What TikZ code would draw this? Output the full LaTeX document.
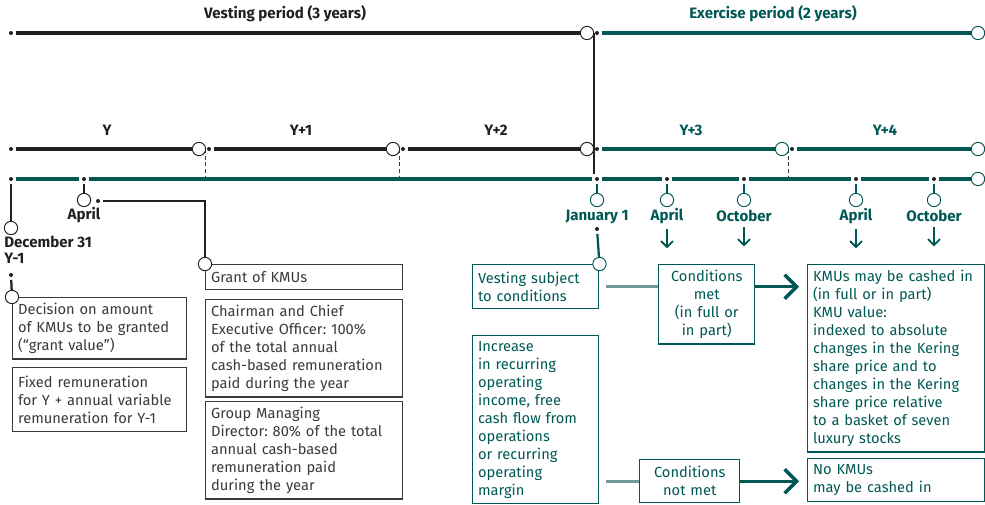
\documentclass[tikz,border=0pt]{standalone}
\usepackage{fontspec}
\setmainfont{Fira Sans}
\frenchspacing
\usetikzlibrary{arrows.meta,positioning,backgrounds,calc}
\definecolor{kteal}{RGB}{0,88,84}
\definecolor{kink}{RGB}{35,31,32}
\definecolor{kgrey}{RGB}{58,58,58}
\definecolor{klink}{RGB}{112,152,149}
\tikzset{
  bline/.style={line width=2.4pt,draw=kink},
  tline/.style={line width=2.4pt,draw=kteal},
  tick/.style={circle,fill=kink,inner sep=0pt,minimum size=3pt,outer sep=2.2pt},
  ring/.style={circle,draw=kink,fill=white,line width=0.7pt,inner sep=0pt,minimum size=10pt},
  tring/.style={ring,draw=kteal},
  hd/.style={font=\bfseries\fontsize{11.3}{12}\selectfont,text=kink,inner sep=0pt},
  thd/.style={hd,text=kteal},
  lbox/.style={draw=kgrey,line width=1.1pt,anchor=north west,align=left,inner sep=4pt,text=kgrey,font=\fontsize{11}{13.5}\selectfont},
  tbox/.style={lbox,draw=kteal,text=kteal},
  dline/.style={densely dashed,line width=0.6pt,draw=kgrey},
  kline/.style={line width=1.7pt,draw=kink},
  tstem/.style={line width=1.7pt,draw=kteal},
  jline/.style={line width=1.5pt,draw=kink},
  kcon/.style={line width=2.6pt,draw=klink},
  karr/.style={line width=2.6pt,draw=kteal,-{Straight Barb[length=9pt,width=18pt]}},
  darr/.style={line width=1.4pt,draw=kteal,-{Straight Barb[length=4.5pt,width=9pt]}}
}
\begin{document}
\begin{tikzpicture}[x=0.75pt,y=0.75pt]
\useasboundingbox (0,0) rectangle (985,-504);
\node[tick] (t0) at (11,-33) {};
\node[ring] (tv) at (587,-33) {};
\node[tick] (t1) at (597,-33) {};
\node[tring] (te) at (978,-33) {};
\draw[bline] (t0) -- (tv);
\draw[tline] (t1) -- (te);
\node[hd] (vest) at (285,-14) {Vesting period (3 years)};
\node[thd] (exer) at (773,-14) {Exercise period (2 years)};
\node[tick] (y0) at (11,-149) {};
\node[ring] (ry1) at (199,-149) {};
\node[tick] (y1) at (209,-149) {};
\node[ring] (ry2) at (393,-149) {};
\node[tick] (y2) at (403,-149) {};
\node[ring] (ry3) at (587,-149) {};
\node[tick] (y3) at (597,-149) {};
\node[tring] (ry4) at (782,-149) {};
\node[tick] (y4) at (792,-149) {};
\node[tring] (ry5) at (978,-149) {};
\draw[bline] (y0) -- (ry1);
\draw[bline] (y1) -- (ry2);
\draw[bline] (y2) -- (ry3);
\draw[tline] (y3) -- (ry4);
\draw[tline] (y4) -- (ry5);
\node[hd] (ly) at (107,-130) {Y};
\node[hd] (ly1) at (301,-130) {Y+1};
\node[hd] (ly2) at (496,-130) {Y+2};
\node[thd] (ly3) at (691,-130) {Y+3};
\node[thd] (ly4) at (885,-130) {Y+4};
\node[tick] (m0) at (11,-179) {};
\node[tick] (mA) at (84,-179) {};
\node[tick] (dJ) at (597,-179) {};
\node[tring] (rme) at (978,-179) {};
\node[ring] (rdec) at (11,-228) {};
\node[hd,align=left,anchor=north west] (ldec) at (4,-236) {December 31\\Y-1};
\node[ring] (rA) at (84,-200) {};
\node[hd] (lA) at (84,-215) {April};
\node[tick] (gA) at (98,-201) {};
\node[tring] (rJ) at (597,-200) {};
\node[thd] (lJ) at (597,-217) {January 1};
\node[tick] (dJ2) at (597,-229) {};
\foreach \n/\x/\t in {a3/667/April,o3/744/October,a4/856/April,o4/934/October}{
  \node[tick] (d\n) at (\x,-179) {};
  \node[tring] (r\n) at (\x,-200) {};
  \node[thd] (l\n) at (\x,-216) {\t};
  \draw[tstem] (d\n) -- (r\n);
  \draw[darr] ([yshift=-4pt]l\n.south) -- ++(0,-19);
}
\foreach \a/\b in {m0/mA,mA/dJ,dJ/da3,da3/do3,do3/da4,da4/do4,do4/rme}
  \draw[tline] (\a) -- (\b);
\begin{scope}[on background layer]
\draw[jline] (tv.east) -- (tv.east |- dJ.north);
\draw[dline] ([xshift=4.5pt]ry1.center) -- ([xshift=4.5pt]ry1.center |- m0);
\draw[dline] ([xshift=4.5pt]ry2.center) -- ([xshift=4.5pt]ry2.center |- m0);
\draw[dline] ([xshift=4.5pt]ry4.center) -- ([xshift=4.5pt]ry4.center |- m0);
\end{scope}
\node[lbox,text width=122.5pt,minimum height=45.75pt] (dbox) at (12,-297) {Decision on amount\\of KMUs to be granted\\(“grant value”)};
\node[lbox,text width=122.5pt,minimum height=48pt] (fbox) at (12,-367) {Fixed remuneration\\for Y + annual variable\\remuneration for Y-1};
\node[lbox,text width=139.75pt,minimum height=18.75pt] (gbox) at (205,-264) {Grant of KMUs};
\node[lbox,text width=139.75pt,minimum height=70.5pt] (cbox) at (205,-299) {Chairman and Chief\\Executive Officer: 100\%\\of the total annual\\cash-based remuneration\\paid during the year};
\node[lbox,text width=139.75pt,minimum height=70.5pt] (mbox) at (205,-401) {Group Managing\\Director: 80\% of the total\\annual cash-based\\remuneration paid\\during the year};
\node[tbox,text width=86.5pt,minimum height=33pt] (vbox) at (472,-264) {Vesting subject\\to conditions};
\node[tbox,text width=86.5pt,minimum height=125.25pt] (ibox) at (472,-335) {Increase\\in recurring\\operating\\income, free\\cash flow from\\operations\\or recurring\\operating\\margin};
\node[tbox,align=center,text width=64pt,minimum height=57pt] (cmet) at (658,-264) {Conditions\\met\\(in full or\\in part)};
\node[tbox,align=center,text width=67pt,minimum height=32.25pt] (cnot) at (639,-459) {Conditions\\not met};
\node[tbox,text width=124.5pt,minimum height=140.25pt] (kbox) at (807,-264) {KMUs may be cashed in\\(in full or in part)\\KMU value:\\indexed to absolute\\changes in the Kering\\share price and to\\changes in the Kering\\share price relative\\to a basket of seven\\luxury stocks};
\node[tbox,text width=124.5pt,minimum height=32.25pt] (nbox) at (807,-458) {No KMUs\\may be cashed in};
\node[ring] (rdb) at (dbox.north west) {};
\node[tick] (dd) at (11,-275) {};
\node[ring] (rgb) at (gbox.north west) {};
\node[tring] (rvb) at (vbox.north east) {};
\draw[kline] (m0) -- (rdec);
\draw[kline] (dd) -- (rdb);
\draw[kline] (mA) -- (rA);
\draw[kline] (gA) -| (rgb);
\draw[tstem] (dJ) -- (rJ);
\draw[tstem] (dJ2) -- (rvb);
\draw[kcon,shorten <=5pt] (vbox.east) -- (vbox.east -| cmet.west);
\draw[karr,shorten >=6pt] (cmet.east |- vbox.east) -- (kbox.west |- vbox.east);
\draw[kcon,shorten <=5pt] (cnot.west -| ibox.east) -- (cnot.west);
\draw[karr,shorten >=6pt] (cnot.east) -- (cnot.east -| nbox.west);
\end{tikzpicture}
\end{document}
